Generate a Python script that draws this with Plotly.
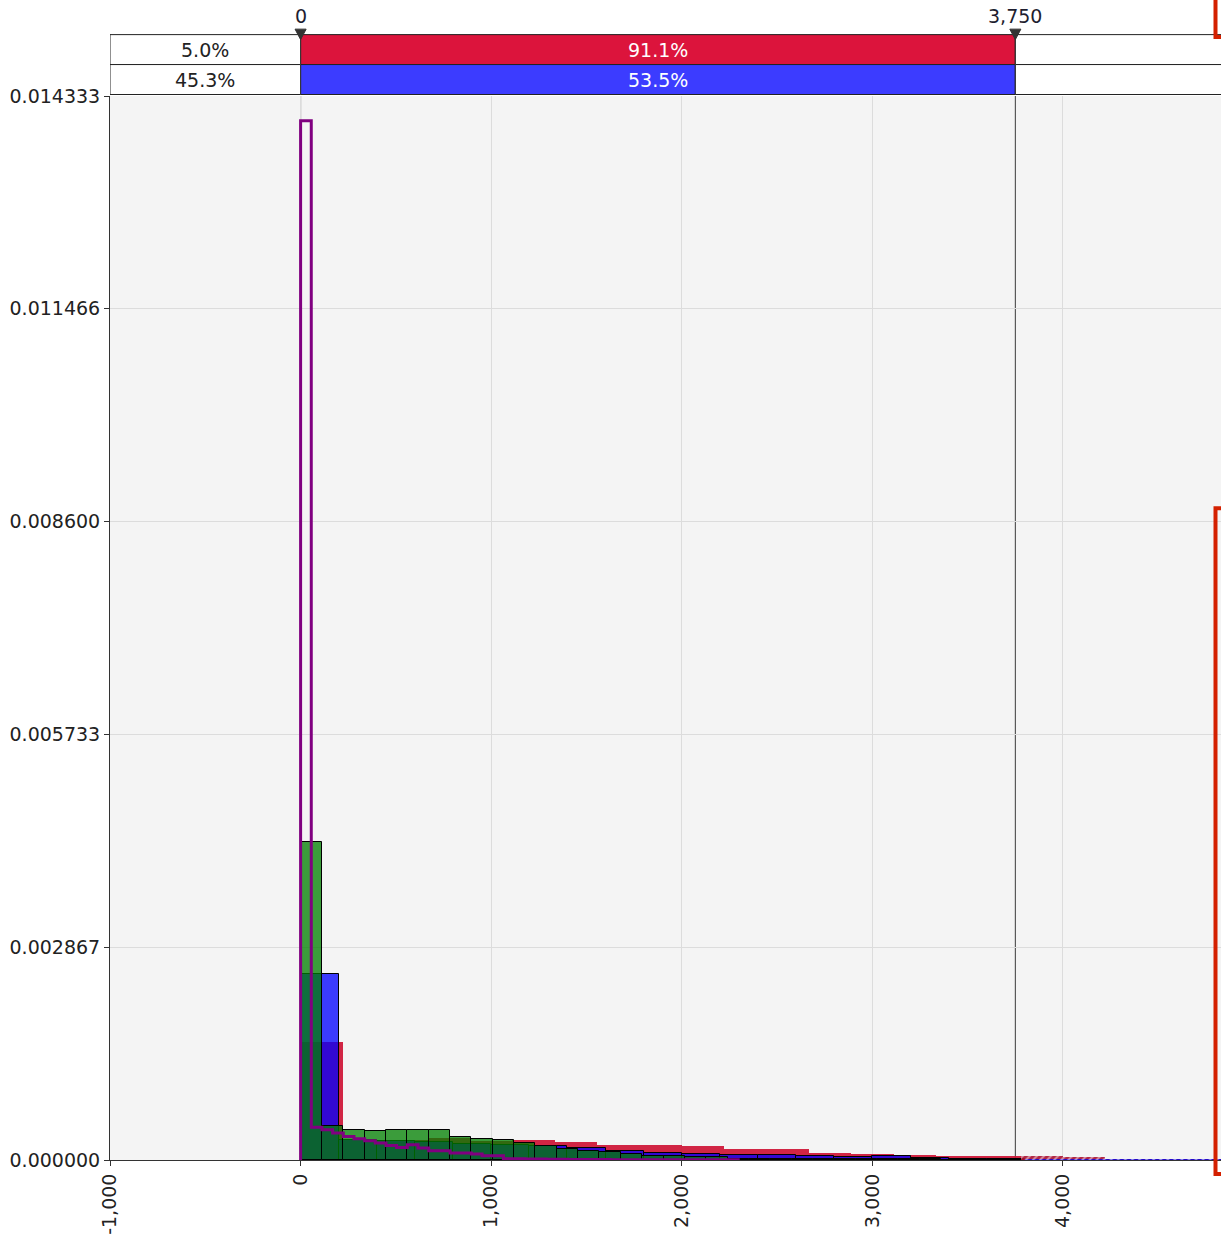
import plotly.graph_objects as go

# ---------------- data ----------------
red_bin_width = 222.2
red_vals = [0.001587, 0.00027, 0.00027, 0.00029, 0.00026, 0.000273, 0.000242, 0.000206,
            0.000198, 0.000184, 0.000148, 0.000148, 0.000094, 0.000087, 0.000072, 0.000058, 0.00006]
red_tail = [0.00005, 0.00004, 0.00002, 0.00002, 0.00002]

blue_bin_width = 200.0
blue_vals = [0.0025, 0.00027, 0.00026, 0.00024, 0.00022, 0.0002, 0.00019, 0.00016, 0.000125,
             0.000094, 0.000076, 0.00007, 0.000063, 0.00005, 0.000036, 0.000058, 0.00003,
             0.000012, 0.00001]
blue_tail = [0.00001, 0.00001, 0.00001, 0.00002, 0.00002, 0.00002]

green_bin_width = 112.0
green_vals = [0.00429, 0.000461, 0.000407, 0.000386, 0.000407, 0.000407, 0.000407, 0.000305,
              0.000286, 0.000265, 0.000229, 0.000192, 0.000148, 0.000125, 0.00011, 0.000081,
              0.000058, 0.00005, 0.00004, 0.000035, 0.000015, 0.000012, 0.00001, 0.00001,
              0.00001, 0.000009, 0.000008, 0.000008, 0.000007, 0.000007, 0.000006, 0.000006,
              0.000005, 0.000005]

purple_bin_width = 56.0
purple_vals = [0.014, 0.00044, 0.000408, 0.000363, 0.000318, 0.000287, 0.00026, 0.000229,
               0.000197, 0.00017, 0.000206, 0.000161, 0.000125, 0.000125, 0.000094, 0.000094,
               0.000081, 0.000058, 0.000058, 0.000018, 0.000018, 0.000015, 0.000012, 0.00001,
               0.00001, 0.000008, 0.000008, 0.000006, 0.000006, 0.000005, 0.000005, 0.000004,
               0.000004, 0.000004, 0.000003, 0.000003, 0.000003, 0.000003, 0.000002, 0.000002,
               0.000002]

x_tick_vals = [-1000, 0, 1000, 2000, 3000, 4000]
x_tick_labels = ["-1,000", "0", "1,000", "2,000", "3,000", "4,000"]
y_tick_vals = [0.0, 0.002867, 0.005733, 0.0086, 0.011466, 0.014333]
y_tick_labels = ["0.000000", "0.002867", "0.005733", "0.008600", "0.011466", "0.014333"]

left_marker = 0
right_marker = 3750
marker_labels = ["0", "3,750"]
red_band = ["5.0%", "91.1%", ""]
blue_band = ["45.3%", "53.5%", ""]

X_MIN, X_MAX = -1000, 4829
Y_MAX = 0.014333
FONT = "DejaVu Sans"


def centers(vals, width, start=0.0):
    return [start + width * (i + 0.5) for i in range(len(vals))]


fig = go.Figure()

# red histogram
fig.add_trace(go.Bar(x=centers(red_vals, red_bin_width), y=red_vals, width=red_bin_width,
                     marker=dict(color="rgba(205,18,52,0.92)", line=dict(width=0)),
                     hoverinfo="skip"))
# blue histogram
fig.add_trace(go.Bar(x=centers(blue_vals, blue_bin_width), y=blue_vals, width=blue_bin_width,
                     marker=dict(color="rgba(0,0,255,0.76)", line=dict(color="black", width=1)),
                     hoverinfo="skip"))
# green histogram
fig.add_trace(go.Bar(x=centers(green_vals, green_bin_width), y=green_vals, width=green_bin_width,
                     marker=dict(color="rgba(0,128,0,0.76)", line=dict(color="black", width=1)),
                     hoverinfo="skip"))

# hatched tails beyond the right marker
red_tail_start = red_bin_width * len(red_vals)
fig.add_trace(go.Bar(x=centers(red_tail, red_bin_width, red_tail_start), y=red_tail,
                     width=red_bin_width,
                     marker=dict(color="rgba(180,16,48,0.9)", line=dict(width=0),
                                 pattern=dict(shape="/", fgcolor="white", bgcolor="rgba(170,16,48,0.9)",
                                              size=5, solidity=0.4)),
                     hoverinfo="skip"))
blue_tail_start = blue_bin_width * len(blue_vals)
fig.add_trace(go.Bar(x=centers(blue_tail, blue_bin_width, blue_tail_start), y=blue_tail,
                     width=blue_bin_width,
                     marker=dict(color="rgba(0,0,255,0.76)", line=dict(width=0),
                                 pattern=dict(shape="/", fgcolor="white", bgcolor="rgba(0,0,230,0.8)",
                                              size=5, solidity=0.4)),
                     hoverinfo="skip"))

# purple step outline
px = [0.0]
py = [0.0]
for i, v in enumerate(purple_vals):
    px.append(i * purple_bin_width)
    py.append(v)
px.append(len(purple_vals) * purple_bin_width)
py.append(0.0)
fig.add_trace(go.Scatter(x=px, y=py, mode="lines", line=dict(color="#800080", width=3, shape="hv"),
                         hoverinfo="skip"))

# ---------------- band / markers ----------------
PH = 1066.0


def pap(pix):
    return (1162.0 - pix) / PH


r_top, r_mid, r_bot = pap(34.5), pap(64.5), pap(94.5)
shapes = []
band_edges = [X_MIN, left_marker, right_marker, 5200]
for row, (y0, y1, col) in enumerate([(r_mid, r_top, "#DC143C"), (r_bot, r_mid, "#3C3CFF")]):
    fills = ["white", col, "white"]
    for k in range(3):
        shapes.append(dict(type="rect", xref="x", yref="paper", x0=band_edges[k], x1=band_edges[k + 1],
                           y0=y0, y1=y1, fillcolor=fills[k], line=dict(color="#222", width=1),
                           layer="above"))
for xm in [left_marker, right_marker]:
    # line inside plot drawn beneath the data
    shapes.append(dict(type="line", xref="x", yref="paper", x0=xm, x1=xm, y0=0, y1=1,
                       line=dict(color="#3a3a3a", width=1), layer="below"))
    shapes.append(dict(type="line", xref="x", yref="paper", x0=xm, x1=xm, y0=r_bot, y1=r_top,
                       line=dict(color="#3a3a3a", width=1), layer="above"))
    shapes.append(dict(type="path", xref="x", yref="paper",
                       path=f"M {xm-29},{pap(29)} L {xm+29},{pap(29)} L {xm},{pap(39.5)} Z",
                       fillcolor="#333", line=dict(color="#333", width=1), layer="above"))

# red frames at the right edge
fx0 = (1215.5 - 110) / 1111.0
shapes.append(dict(type="path", xref="paper", yref="paper",
                   path=f"M {fx0},{pap(-5)} L {fx0},{pap(37)} L 1.02,{pap(37)}",
                   line=dict(color="#D42000", width=4), layer="above"))
shapes.append(dict(type="path", xref="paper", yref="paper",
                   path=f"M 1.02,{pap(509)} L {fx0},{pap(509)} L {fx0},{pap(1176)} L 1.02,{pap(1176)}",
                   line=dict(color="#D42000", width=4), layer="above"))

annotations = []
for xm, lab in zip([left_marker, right_marker], marker_labels):
    annotations.append(dict(x=xm, y=pap(16), xref="x", yref="paper", text=lab, showarrow=False,
                            xanchor="center", yanchor="middle",
                            font=dict(family=FONT, size=19, color="#1e1e30")))
band_centers = [(X_MIN + left_marker) / 2, (left_marker + right_marker) / 2]
for texts, yc in [(red_band, pap(50)), (blue_band, pap(80))]:
    for k in range(2):
        annotations.append(dict(x=band_centers[k], y=yc, xref="x", yref="paper", text=texts[k],
                                showarrow=False, xanchor="center", yanchor="middle",
                                font=dict(family=FONT, size=19, color="#222" if k == 0 else "white")))

fig.update_layout(
    width=1221, height=1235, autosize=False,
    margin=dict(l=110, r=0, t=96, b=73, pad=0),
    paper_bgcolor="white", plot_bgcolor="#F4F4F4",
    barmode="overlay", bargap=0, showlegend=False,
    font=dict(family=FONT, size=19, color="#222"),
    shapes=shapes, annotations=annotations,
    xaxis=dict(range=[X_MIN, X_MAX], tickvals=x_tick_vals, ticktext=x_tick_labels, tickangle=-90,
               ticks="outside", ticklen=5, tickcolor="#333", showgrid=True, gridcolor="#DCDCDC",
               gridwidth=1, zeroline=False, showline=True, linecolor="#333", linewidth=1,
               tickfont=dict(family=FONT, size=19, color="#222")),
    yaxis=dict(range=[0, Y_MAX], tickvals=y_tick_vals, ticktext=y_tick_labels,
               ticks="outside", ticklen=5, tickcolor="#333", showgrid=True, gridcolor="#DCDCDC",
               gridwidth=1, zeroline=False, showline=True, linecolor="#333", linewidth=1,
               tickfont=dict(family=FONT, size=19, color="#222")),
)

fig.write_html("out.html")
